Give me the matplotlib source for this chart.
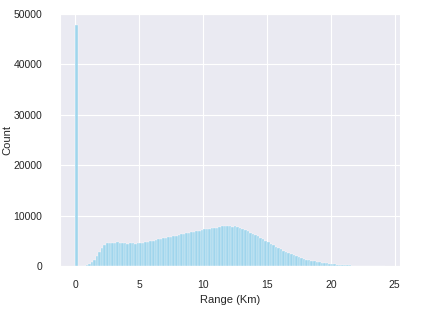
import numpy as np
import matplotlib
matplotlib.use("Agg")
import matplotlib.pyplot as plt
import seaborn as sns

# histogram of range values, bin width 0.2 km, counts
bin_width = 0.2
bin_start = 0.0
counts = [
    47800, 0, 0, 0, 100, 300, 700, 1200, 1900, 2700,
    3500, 4100, 4450, 4550, 4600, 4600, 4650, 4600, 4500, 4550,
    4400, 4450, 4500, 4400, 4500, 4550, 4600, 4750, 4700, 4900,
    5000, 5100, 5250, 5300, 5500, 5600, 5700, 5800, 5950, 6000,
    6150, 6250, 6400, 6500, 6600, 6700, 6800, 6850, 7000, 7150,
    7300, 7350, 7400, 7500, 7450, 7600, 7700, 7900, 8000, 7950,
    7900, 7800, 7850, 7700, 7500, 7350, 7200, 6900, 6600, 6400,
    6150, 5900, 5600, 5300, 5000, 4700, 4400, 4100, 3850, 3550,
    3300, 3050, 2800, 2550, 2300, 2100, 1900, 1700, 1500, 1350,
    1200, 1100, 1000, 900, 800, 720, 640, 560, 490, 430,
    380, 320, 270, 220, 180, 140, 110, 85, 65, 50,
    40, 30, 25, 20, 15, 12, 10, 8, 6, 4,
    3,
]
x_label = "Range (Km)"
y_label = "Count"

edges = bin_start + bin_width * np.arange(len(counts) + 1)
centers = (edges[:-1] + edges[1:]) / 2

sns.set_style("darkgrid")
plt.rcParams["font.family"] = ["Liberation Sans", "DejaVu Sans"]

fig = plt.figure(figsize=(4.31, 3.11), dpi=100)
ax = fig.add_axes([0.139, 0.145, 0.789, 0.81])
ax.hist(centers, bins=edges, weights=counts, color="skyblue", alpha=0.75,
        edgecolor="white", linewidth=0.3)
ax.set_ylim(0, 50000)

ax.set_xlabel(x_label, fontsize=8, labelpad=3)
ax.set_ylabel(y_label, fontsize=8, labelpad=1)
ax.tick_params(axis="x", labelsize=7.5, pad=7)
ax.tick_params(axis="y", labelsize=7.5, pad=9)

fig.savefig("out.png", dpi=100)
